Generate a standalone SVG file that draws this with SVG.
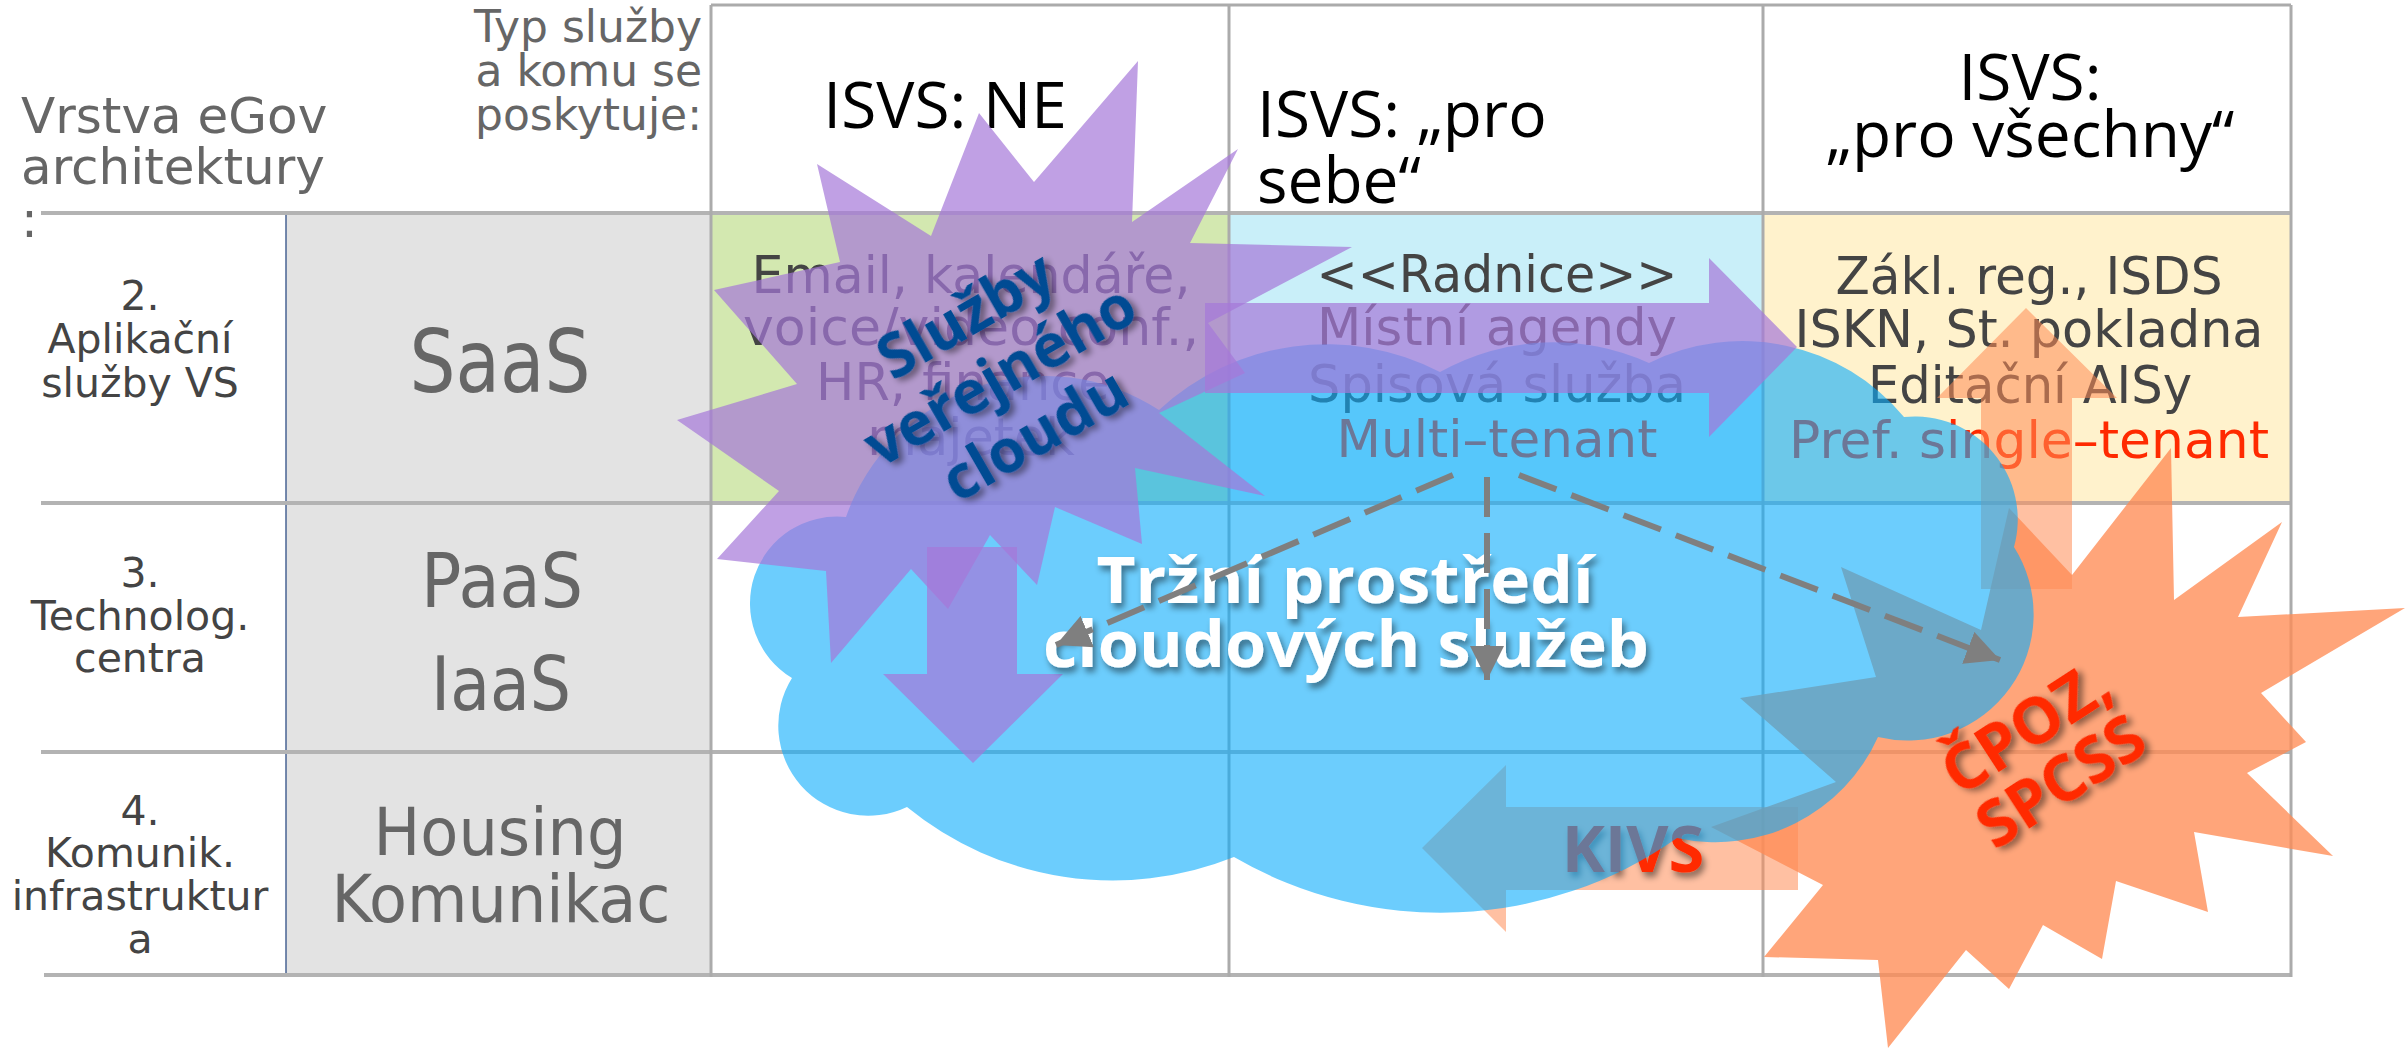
<svg xmlns="http://www.w3.org/2000/svg" width="2407" height="1049" viewBox="0 0 2407 1049">
<defs>
<style>
.g{font-family:"DejaVu Sans",sans-serif;fill:#666}
.l{font-family:"DejaVu Sans",sans-serif;fill:#444;font-size:41px;text-anchor:middle}
.c{font-family:"DejaVu Sans",sans-serif;fill:#444;font-size:51px;text-anchor:middle}
.red{fill:#ff2a00}
.h{font-family:"Open Sans",sans-serif;fill:#000;font-size:64px}
.b{font-family:"Open Sans",sans-serif;font-weight:bold}
.grid{stroke:#b3b3b3;stroke-width:4;fill:none}
.vgrid{stroke:#ababab;stroke-width:3;fill:none}
.gcell{fill:#e3e3e3;stroke:#4a6494;stroke-width:1.5}
.purple{fill:#a577d8;opacity:0.7}
.orange{fill:#ff8c55;opacity:0.55}
.dash{stroke:#7f7f7f;stroke-width:6;stroke-dasharray:40 16;fill:none;marker-end:url(#ah)}
</style>
<marker id="ah" viewBox="0 0 34 34" refX="34" refY="17" markerWidth="34" markerHeight="34" markerUnits="userSpaceOnUse" orient="auto"><path d="M0,0L34,17L0,34z" fill="#7f7f7f"/></marker>
<filter id="sh" x="-20%" y="-30%" width="140%" height="170%"><feDropShadow dx="3" dy="5" stdDeviation="3" flood-color="#000" flood-opacity="0.45"/></filter>
</defs>
<rect width="2407" height="1049" fill="#fff"/>

<g id="cells">
<rect x="711" y="214" width="518" height="289" fill="#d3e8b0"/>
<rect x="1229" y="214" width="534" height="289" fill="#c9eff9"/>
<rect x="1763" y="214" width="528" height="289" fill="#fff2cc" stroke="#c8b88a" stroke-width="2"/>
</g>

<g id="layer-column">
<rect class="gcell" x="286" y="214" width="425" height="289"/>
<rect class="gcell" x="286" y="503" width="425" height="249"/>
<rect class="gcell" x="286" y="752" width="425" height="223"/>
</g>

<g id="grid">
<path class="grid" d="M41,213H2291M41,503H2291M41,752H2291M44,975H2291"/>
<path class="vgrid" d="M711,5H2291M711,5V977M1229,5V977M1763,5V977M2291,5V977"/>
</g>

<g id="title-layer">
<text class="g" font-size="50" x="21" y="133">Vrstva eGov</text>
<text class="g" font-size="50" x="21" y="184">architektury</text>
<text class="g" font-size="50" x="21" y="237">:</text>
</g>
<g id="title-type">
<text class="g" font-size="44" text-anchor="end" x="702" y="42">Typ služby</text>
<text class="g" font-size="44" text-anchor="end" x="702" y="86">a komu se</text>
<text class="g" font-size="44" text-anchor="end" x="702" y="130">poskytuje:</text>
</g>

<g id="head-ne"><text class="h" x="945" y="128" text-anchor="middle">ISVS: NE</text></g>
<g id="head-sebe">
<text class="h" x="1257" y="137">ISVS: „pro</text>
<text class="h" x="1257" y="203">sebe“</text>
</g>
<g id="head-vsechny">
<text class="h" x="2030" y="100" text-anchor="middle">ISVS:</text>
<text class="h" x="2030" y="157" text-anchor="middle">„pro všechny“</text>
</g>

<g id="label-2">
<text class="l" x="140" y="310">2.</text>
<text class="l" x="140" y="353">Aplikační</text>
<text class="l" x="140" y="397">služby VS</text>
</g>
<g id="label-3">
<text class="l" x="140" y="587">3.</text>
<text class="l" x="140" y="630">Technolog.</text>
<text class="l" x="140" y="672">centra</text>
</g>
<g id="label-4">
<text class="l" x="140" y="825">4.</text>
<text class="l" x="140" y="867">Komunik.</text>
<text class="l" x="140" y="910">infrastruktur</text>
<text class="l" x="140" y="953">a</text>
</g>

<g id="saas"><text class="g" font-size="88" text-anchor="middle" x="500" y="392" textLength="181" lengthAdjust="spacingAndGlyphs">SaaS</text></g>
<g id="paas-iaas">
<text class="g" font-size="75" text-anchor="middle" x="502" y="607" textLength="162" lengthAdjust="spacingAndGlyphs">PaaS</text>
<text class="g" font-size="75" text-anchor="middle" x="501" y="710" textLength="140" lengthAdjust="spacingAndGlyphs">IaaS</text>
</g>
<g id="housing">
<text class="g" font-size="65" text-anchor="middle" x="500" y="855" textLength="253" lengthAdjust="spacingAndGlyphs">Housing</text>
<text class="g" font-size="66" text-anchor="middle" x="501" y="922" textLength="339" lengthAdjust="spacingAndGlyphs">Komunikac</text>
</g>

<g id="cell-public">
<text class="c" x="971" y="293" textLength="439" lengthAdjust="spacingAndGlyphs">Email, kalendáře,</text>
<text class="c" x="971" y="345" textLength="456" lengthAdjust="spacingAndGlyphs">voice/video conf.,</text>
<text class="c" x="971" y="400">HR, finance,</text>
<text class="c" x="971" y="455">majetek</text>
</g>
<g id="cell-radnice">
<text class="c" x="1497" y="292" textLength="361" lengthAdjust="spacingAndGlyphs">&lt;&lt;Radnice&gt;&gt;</text>
<text class="c" x="1497" y="345" textLength="360" lengthAdjust="spacingAndGlyphs">Místní agendy</text>
<text class="c" x="1497" y="402" textLength="378" lengthAdjust="spacingAndGlyphs">Spisová služba</text>
<text class="c red" x="1497" y="457" textLength="321" lengthAdjust="spacingAndGlyphs">Multi–tenant</text>
</g>
<g id="cell-zakl">
<text class="c" x="2029" y="294" textLength="387" lengthAdjust="spacingAndGlyphs">Zákl. reg., ISDS</text>
<text class="c" x="2029" y="347" textLength="469" lengthAdjust="spacingAndGlyphs">ISKN, St. pokladna</text>
<text class="c" x="2030" y="403" textLength="324" lengthAdjust="spacingAndGlyphs">Editační AISy</text>
<text class="c red" x="2029" y="458" textLength="480" lengthAdjust="spacingAndGlyphs">Pref. single–tenant</text>
</g>

<g id="cpoz-star">
<polygon fill="#ff8c55" opacity="0.78" points="2171,448 2174,600 2282,522 2238,617 2405,608 2261,693 2306,742 2247,773 2333,856 2194,832 2208,912 2116,881 2102,959 2043,925 2009,989 1966,950 1888,1048 1878,960 1764,957 1823,885 1711,827 1836,782 1740,698 1876,677 1841,567 1981,630 2009,508 2072,575"/>
</g>
<g id="arrow-up"><polygon class="orange" points="1981,589 1981,398 1937,398 2026,308 2117,398 2072,398 2072,589"/></g>
<g id="kivs">
<polygon class="orange" points="1798,807 1506,807 1506,765 1422,848 1506,932 1506,890 1798,890"/>
<text class="b red" font-size="65" x="1633" y="872" text-anchor="middle" filter="url(#sh)">KIVS</text>
</g>

<g id="cloud">
<path fill="#0aacfc" opacity="0.6" d="M846,517A210,210 0 0 1 1159,410A246,246 0 0 1 1440,372A231,231 0 0 1 1649,363A210,210 0 0 1 1904,417A103,103 0 0 1 2014,547A126,126 0 0 1 1878,737A178,178 0 0 1 1677,838A411,411 0 0 1 1234,857A325,325 0 0 1 907,807A90,90 0 0 1 792,678A87,87 0 0 1 846,517Z"/>
</g>

<g id="public-cloud-star">
<polygon class="purple" points="1138,61 1132,222 1238,149 1190,243 1352,247 1208,323 1245,373 1159,413 1265,496 1135,468 1142,544 1055,507 1037,585 990,535 948,609 911,569 831,663 826,571 717,559 779,491 677,420 797,384 714,290 840,262 817,164 931,236 979,113 1034,182"/>
</g>
<g id="arrow-right"><polygon class="purple" points="1205,303 1709,303 1709,258 1797,347 1709,437 1709,393 1205,393"/></g>
<g id="arrow-down"><polygon class="purple" points="927,547 1017,547 1017,674 1063,674 973,763 883,674 927,674"/></g>

<g id="market-text" filter="url(#sh)">
<text class="b" fill="#fff" font-size="64" x="1345" y="603" text-anchor="middle" textLength="497" lengthAdjust="spacingAndGlyphs">Tržní prostředí</text>
<text class="b" fill="#fff" font-size="64" x="1346" y="667" text-anchor="middle" textLength="606" lengthAdjust="spacingAndGlyphs">cloudových služeb</text>
</g>

<g id="connectors">
<path class="dash" d="M1453,475L1056,645"/>
<path class="dash" d="M1487,477L1487,680"/>
<path class="dash" d="M1519,475L2000,660"/>
</g>

<g id="public-cloud-text" transform="translate(1000,375) rotate(-30)" filter="url(#sh)">
<text class="b" fill="#004b93" font-size="60" text-anchor="middle" x="0" y="-48">Služby</text>
<text class="b" fill="#004b93" font-size="60" text-anchor="middle" x="0" y="21">veřejného</text>
<text class="b" fill="#004b93" font-size="60" text-anchor="middle" x="0" y="90">cloudu</text>
</g>

<g id="cpoz-text" transform="translate(2043,754) rotate(-33)" filter="url(#sh)">
<text class="b red" font-size="64" text-anchor="middle" x="0" y="-9">ČPOZ,</text>
<text class="b red" font-size="64" text-anchor="middle" x="0" y="55">SPCSS</text>
</g>
</svg>
